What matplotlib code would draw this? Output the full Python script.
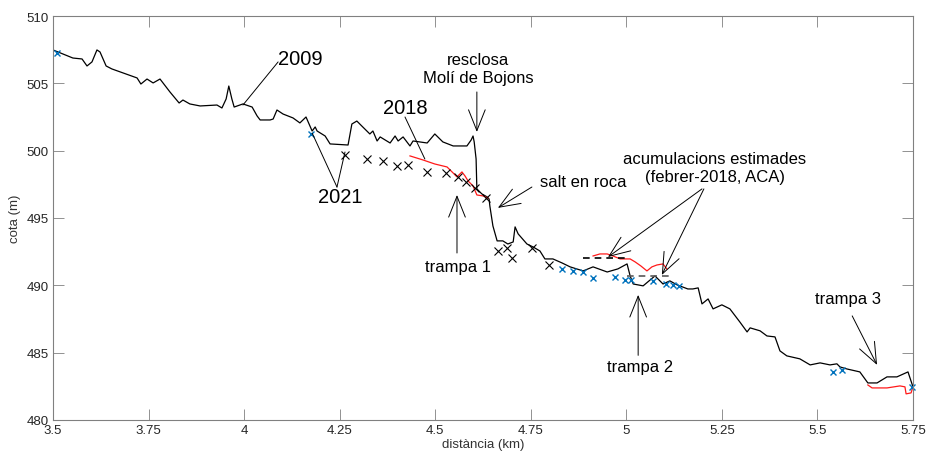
import numpy as np
import matplotlib
matplotlib.use("Agg")
import matplotlib.pyplot as plt

plt.rcParams['font.family'] = ['Liberation Sans', 'DejaVu Sans']

# perfil 2009 (linia negra)
dist_2009 = [3.500, 3.526, 3.552, 3.576, 3.589, 3.602, 3.615, 3.623, 3.639, 3.654,
             3.720, 3.730, 3.746, 3.762, 3.780, 3.806, 3.830, 3.840, 3.858, 3.885,
             3.929, 3.942, 3.953, 3.960, 3.968, 3.974, 3.997, 4.021, 4.034, 4.042,
             4.068, 4.076, 4.086, 4.102, 4.128, 4.146, 4.162, 4.178, 4.186, 4.191,
             4.212, 4.225, 4.272, 4.282, 4.295, 4.308, 4.329, 4.337, 4.348, 4.356,
             4.382, 4.395, 4.403, 4.416, 4.434, 4.442, 4.479, 4.499, 4.520, 4.547,
             4.583, 4.594, 4.599, 4.602, 4.607, 4.609, 4.622, 4.636, 4.641, 4.643,
             4.651, 4.662, 4.677, 4.690, 4.704, 4.709, 4.717, 4.740, 4.756, 4.774,
             4.787, 4.808, 4.832, 4.853, 4.887, 4.913, 4.950, 4.978, 5.002, 5.010,
             5.018, 5.044, 5.075, 5.096, 5.114, 5.133, 5.161, 5.174, 5.188, 5.198,
             5.214, 5.227, 5.250, 5.271, 5.297, 5.316, 5.324, 5.350, 5.368, 5.389,
             5.402, 5.420, 5.454, 5.481, 5.507, 5.533, 5.551, 5.559, 5.577, 5.611,
             5.632, 5.656, 5.682, 5.708, 5.737, 5.750]
cota_2009 = [507.48, 507.18, 506.88, 506.81, 506.29, 506.59, 507.48, 507.33, 506.29, 506.07,
             505.40, 504.95, 505.32, 505.03, 505.32, 504.36, 503.54, 503.76, 503.47, 503.32,
             503.39, 503.17, 503.84, 504.80, 503.84, 503.24, 503.47, 503.24, 502.58, 502.28,
             502.28, 502.35, 503.02, 502.72, 502.43, 502.06, 502.50, 501.46, 501.76, 501.46,
             501.09, 500.50, 500.42, 501.98, 502.20, 501.83, 501.24, 501.46, 500.72, 501.02,
             500.57, 501.09, 500.72, 501.02, 500.35, 500.72, 500.57, 501.24, 500.65, 500.35,
             500.35, 500.79, 501.09, 500.65, 499.38, 497.16, 496.79, 496.56, 496.41, 495.89,
             494.41, 493.30, 493.30, 493.07, 493.22, 494.34, 493.82, 493.07, 492.85, 492.55,
             491.96, 491.96, 491.66, 491.37, 491.07, 491.37, 490.99, 491.22, 491.59, 490.70,
             490.10, 489.96, 490.70, 490.10, 490.33, 490.03, 489.73, 489.73, 489.81, 488.62,
             488.99, 488.25, 488.55, 488.25, 487.28, 486.54, 486.84, 486.62, 486.24, 486.17,
             485.13, 484.76, 484.54, 484.09, 484.24, 484.09, 484.17, 483.94, 483.79, 483.57,
             482.75, 482.75, 483.20, 483.20, 483.57, 482.46]

# perfil 2018 (linia vermella, tres trams)
dist_2018_a = [4.434, 4.468, 4.499, 4.531, 4.547, 4.557, 4.570, 4.578, 4.586, 4.599, 4.609, 4.625, 4.638]
cota_2018_a = [499.61, 499.31, 499.01, 498.79, 498.34, 498.05, 498.42, 498.12, 497.75, 497.38, 496.71, 496.64, 496.49]
dist_2018_b = [4.913, 4.931, 4.950, 4.965, 4.984, 5.010, 5.023, 5.038, 5.054, 5.067, 5.080, 5.096, 5.106]
cota_2018_b = [492.18, 492.33, 492.33, 492.18, 491.96, 491.96, 491.74, 491.44, 491.07, 491.37, 491.51, 491.59, 491.22]
dist_2018_c = [5.632, 5.643, 5.682, 5.716, 5.729, 5.732, 5.745, 5.750]
cota_2018_c = [482.60, 482.38, 482.38, 482.53, 482.46, 481.94, 482.01, 482.46]

# punts 2021 (creus negres)
dist_2021_k = [4.264, 4.322, 4.363, 4.400, 4.429, 4.479, 4.528, 4.560, 4.581, 4.604,
               4.633, 4.664, 4.688, 4.701, 4.753, 4.798]
cota_2021_k = [499.68, 499.38, 499.24, 498.86, 498.94, 498.42, 498.34, 498.05, 497.68, 497.23,
               496.49, 492.55, 492.78, 492.03, 492.78, 491.51]

# punts 2021 (creus blaves)
dist_2021_b = [3.510, 4.175, 4.832, 4.861, 4.887, 4.913, 4.970, 4.997, 5.012, 5.070,
               5.104, 5.122, 5.138, 5.541, 5.564, 5.748]
cota_2021_b = [507.25, 501.24, 491.22, 491.07, 490.99, 490.55, 490.62, 490.40, 490.40, 490.33,
               490.10, 490.03, 489.96, 483.57, 483.72, 482.46]

# acumulacions estimades (trams discontinus)
acum1_x = [4.887, 4.997]
acum1_y = [492.0, 492.0]
acum2_x = [5.002, 5.114]
acum2_y = [490.7, 490.7]

xticks = [3.5, 3.75, 4, 4.25, 4.5, 4.75, 5, 5.25, 5.5, 5.75]
xticklabels = ['3.5', '3.75', '4', '4.25', '4.5', '4.75', '5', '5.25', '5.5', '5.75']
yticks = [480, 485, 490, 495, 500, 505, 510]

fig = plt.figure(figsize=(9.28, 4.56), dpi=100)
ax = fig.add_axes([0.0571, 0.0768, 0.9267, 0.8859])

ax.plot(dist_2009, cota_2009, color='k', lw=0.9)
for xs, ys in [(dist_2018_a, cota_2018_a), (dist_2018_b, cota_2018_b), (dist_2018_c, cota_2018_c)]:
    ax.plot(xs, ys, color='#ff1a1a', lw=0.9)
ax.plot(acum1_x, acum1_y, color='k', lw=1.2, ls=(0, (4, 3)))
ax.plot(acum2_x, acum2_y, color='0.35', lw=1.2, ls=(0, (4, 3)))
ax.plot(dist_2021_k, cota_2021_k, ls='none', marker='x', color='k', ms=6, mew=0.8)
ax.plot(dist_2021_b, cota_2021_b, ls='none', marker='x', color='#0072BD', ms=4, mew=1.0,
        clip_on=False)

ax.set_xlim(3.5, 5.75)
ax.set_ylim(480, 510)
ax.set_xticks(xticks)
ax.set_xticklabels(xticklabels)
ax.set_yticks(yticks)
ax.tick_params(direction='in', length=8, width=0.6, color='#808080', labelsize=9.5,
               labelcolor='#262626', top=True, right=True, pad=3)
for s in ax.spines.values():
    s.set_color('#808080')
    s.set_linewidth(0.8)
ax.set_xlabel('distància (km)', fontsize=9.5, color='#333333', labelpad=1)
ax.set_ylabel('cota (m)', fontsize=9.5, color='#333333', labelpad=4)

# etiquetes i fletxes
lin = dict(arrowstyle='-', lw=0.7, color='k', shrinkA=0, shrinkB=0)
fle = dict(arrowstyle='->,head_length=1.5,head_width=0.6', lw=0.7, color='k',
           shrinkA=0, shrinkB=0, mutation_scale=10)

ax.text(4.146, 506.81, '2009', fontsize=14.5, ha='center', va='center')
ax.annotate('', xy=(3.997, 503.39), xytext=(4.089, 506.59), arrowprops=lin)
ax.text(4.251, 496.56, '2021', fontsize=14.5, ha='center', va='center')
ax.annotate('', xy=(4.178, 501.31), xytext=(4.243, 497.3), arrowprops=lin)
ax.annotate('', xy=(4.264, 499.9), xytext=(4.243, 497.3), arrowprops=lin)
ax.text(4.421, 503.24, '2018', fontsize=14.5, ha='center', va='center')
ax.annotate('', xy=(4.473, 499.38), xytext=(4.421, 502.5), arrowprops=lin)

ax.text(4.612, 506.07, 'resclosa\nMolí de Bojons', fontsize=12, ha='center', va='center',
        linespacing=1.25)
ax.annotate('', xy=(4.609, 501.39), xytext=(4.609, 504.36), arrowprops=fle)
ax.text(4.774, 497.68, 'salt en roca', fontsize=12, ha='left', va='center')
ax.annotate('', xy=(4.664, 495.75), xytext=(4.753, 497.3), arrowprops=fle)
ax.text(4.560, 491.37, 'trampa 1', fontsize=12, ha='center', va='center')
ax.annotate('', xy=(4.557, 496.71), xytext=(4.557, 492.4), arrowprops=fle)
ax.text(5.232, 498.72, 'acumulacions estimades\n(febrer-2018, ACA)', fontsize=12,
        ha='center', va='center', linespacing=1.25)
ax.annotate('', xy=(4.952, 492.1), xytext=(5.198, 497.16), arrowprops=fle)
ax.annotate('', xy=(5.093, 490.77), xytext=(5.203, 497.16), arrowprops=fle)
ax.text(5.036, 483.94, 'trampa 2', fontsize=12, ha='center', va='center')
ax.annotate('', xy=(5.031, 489.29), xytext=(5.031, 484.8), arrowprops=fle)
ax.text(5.580, 488.99, 'trampa 3', fontsize=12, ha='center', va='center')
ax.annotate('', xy=(5.656, 484.09), xytext=(5.591, 487.73), arrowprops=fle)

fig.savefig('out.png', dpi=100)
